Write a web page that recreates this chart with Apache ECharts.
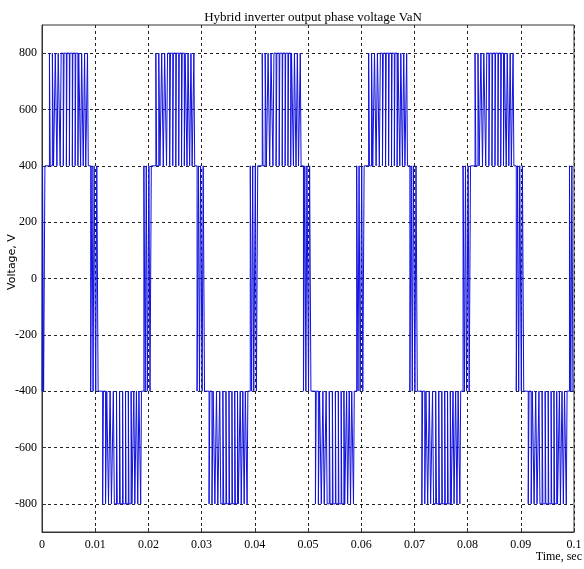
<!DOCTYPE html>
<html>
<head>
<meta charset="utf-8">
<script src="https://cdn.jsdelivr.net/npm/echarts@6/dist/echarts.min.js"></script>
<style>
  html, body { margin: 0; padding: 0; background: #fff; }
  #main { width: 584px; height: 569px; }
</style>
</head>
<body>
<div id="main"></div>
<script>
// zero crossings of the 50 Hz phase voltage and the sign of the half cycle that starts there
const crossings = [0, 0.01, 0.02, 0.03, 0.04, 0.05, 0.06, 0.07, 0.08, 0.09, 0.1]
const polarity = [1, -1, 1, -1, 1, -1, 1, -1, 1, -1, 1]
// switching instants around each zero crossing (between +400 and -400), relative to the crossing
const zcEdges = [-0.00085, -0.0006, -0.0004, -0.0002, 0.0001, 0.0003, 0.00055]
// pulses between the inner and outer level (400 <-> 800), relative to the half-cycle start
const pwmOn = [0.00140, 0.00195, 0.00250, 0.00305, 0.00360, 0.00415, 0.00470, 0.00525, 0.00580, 0.00635, 0.00690, 0.00745, 0.00800, 0.00855]
const pwmOff = [0.00155, 0.00217, 0.00280, 0.00341, 0.00400, 0.00458, 0.00515, 0.00570, 0.00623, 0.00675, 0.00726, 0.00775, 0.00822, 0.00870]
const innerLevel = 400
const outerLevel = 800
const yTicks = [-800, -600, -400, -200, 0, 200, 400, 600, 800]

// edges: [time, new level]
const edges = []
crossings.forEach((t0, k) => {
  const s = polarity[k]
  zcEdges.forEach((d, j) => {
    edges.push([t0 + d, (j % 2 === 0 ? s : -s) * innerLevel])
  })
  if (k < crossings.length - 1) {
    pwmOn.forEach((on, i) => {
      edges.push([t0 + on, s * outerLevel])
      edges.push([t0 + pwmOff[i], s * innerLevel])
    })
  }
})
edges.sort((a, b) => a[0] - b[0])

const wave = []
let level = -innerLevel
let started = false
edges.forEach(([t, v]) => {
  if (t < 0) { level = v; return }
  if (t > 0.1) return
  if (!started) { wave.push([0, level]); started = true }
  wave.push([t, level])
  wave.push([t, v])
  level = v
})
wave.push([0.1, level])

const chart = echarts.init(document.getElementById('main'), null, { renderer: 'canvas' })

const gridLine = { show: true, lineStyle: { color: '#222', type: [3, 3], width: 1 } }
const serif = 'Liberation Serif'

chart.setOption({
  animation: false,
  title: {
    text: 'Hybrid inverter output phase voltage VaN',
    left: 308,
    textAlign: 'center',
    top: 6,
    textStyle: { fontFamily: serif, fontSize: 13, fontWeight: 'normal', color: '#000' }
  },
  grid: {
    left: 42, right: 10, top: 25, bottom: 37,
    outerBoundsMode: 'none',
    containLabel: false,
    show: true, borderColor: '#333', borderWidth: 1, backgroundColor: '#fff'
  },
  xAxis: {
    type: 'value',
    min: 0, max: 0.1, interval: 0.01,
    axisLine: { show: true, onZero: false, lineStyle: { color: '#333' } },
    axisTick: { show: true, inside: true, length: 4, lineStyle: { color: '#333' } },
    axisLabel: {
      margin: 7, color: '#000', fontFamily: serif, fontSize: 12,
      formatter: v => String(+v.toFixed(2))
    },
    splitLine: gridLine
  },
  yAxis: {
    type: 'value',
    min: -900, max: 900,
    axisLine: { show: true, lineStyle: { color: '#333' } },
    axisTick: { show: true, inside: true, length: 4, customValues: yTicks, lineStyle: { color: '#333' } },
    axisLabel: { margin: 5, color: '#000', fontFamily: serif, fontSize: 12, customValues: yTicks },
    splitLine: gridLine
  },
  graphic: [{
    type: 'text',
    right: 2,
    top: 551,
    style: { text: 'Time, sec', font: '12px "Liberation Serif"', fill: '#000' }
  }, {
    type: 'text',
    x: 12,
    y: 262,
    rotation: Math.PI / 2,
    style: {
      text: 'Voltage, V', font: '11px "DejaVu Sans"', fill: '#000',
      align: 'center', verticalAlign: 'middle'
    }
  }],
  series: [{
    type: 'line',
    data: wave,
    showSymbol: false,
    symbol: 'none',
    lineStyle: { color: '#1010e0', width: 1 },
    clip: true
  }]
})
</script>
</body>
</html>
